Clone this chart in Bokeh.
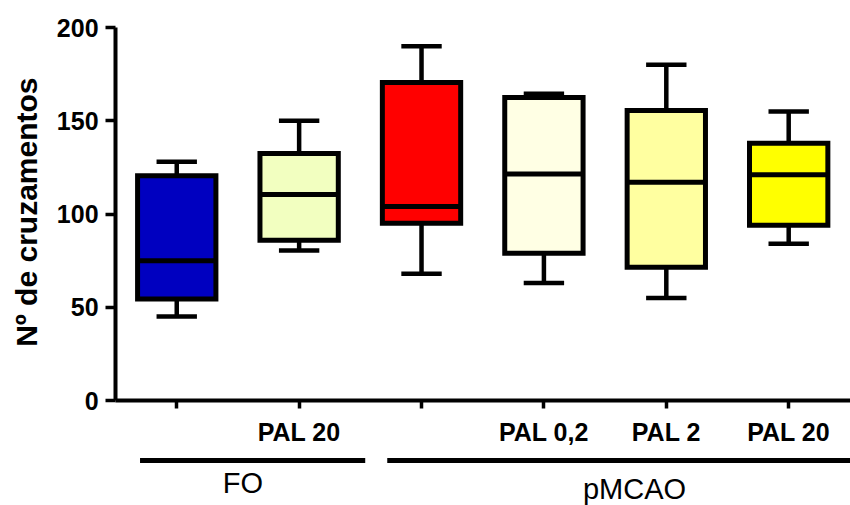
import math
from bokeh.plotting import figure
from bokeh.models import Range1d, FixedTicker
from bokeh.core.properties import value
from bokeh.embed import file_html
from bokeh.resources import INLINE

# ---- data ----
groups = ["FO", "FO PAL 20", "pMCAO", "pMCAO PAL 0,2", "pMCAO PAL 2", "pMCAO PAL 20"]
tick_labels = ["", "PAL 20", "", "PAL 0,2", "PAL 2", "PAL 20"]
whisker_min = [45, 80.5, 68, 63, 55, 84]
q1 = [54.5, 86, 95, 79, 71.5, 94]
median = [75, 110.5, 104, 121.5, 117, 121]
q3 = [120.5, 132.5, 170.5, 162.5, 155.5, 138]
whisker_max = [128, 150, 190, 164.5, 180, 155]
colors = ["#0000C0", "#F2FFC0", "#FF0000", "#FFFFE4", "#FFFFA0", "#FFFF00"]
y_ticks = [0, 50, 100, 150, 200]
y_label = "Nº de cruzamentos"
group_names = ["FO", "pMCAO"]

FONT = "Liberation Sans"
xs = [i + 0.5 for i in range(len(groups))]

# frame covers the whole figure; axes are pinned at x=0 / y=0
X0, X1 = -0.94, 6.005
Y0, Y1 = -56.3, 214.5
p = figure(width=850, height=505, output_backend="svg", toolbar_location=None,
           x_range=Range1d(X0, X1), y_range=Range1d(Y0, Y1),
           min_border_left=0, min_border_right=0, min_border_top=0,
           min_border_bottom=0)
p.outline_line_color = None
p.xgrid.visible = False
p.ygrid.visible = False
p.background_fill_color = "white"

bw = 0.64
cw = 0.33
# whiskers
p.segment(x0=xs, y0=q3, x1=xs, y1=whisker_max, line_color="black", line_width=4.5)
p.segment(x0=xs, y0=q1, x1=xs, y1=whisker_min, line_color="black", line_width=4.5)
p.segment(x0=[x - cw / 2 for x in xs], y0=whisker_max, x1=[x + cw / 2 for x in xs],
          y1=whisker_max, line_color="black", line_width=4.5)
p.segment(x0=[x - cw / 2 for x in xs], y0=whisker_min, x1=[x + cw / 2 for x in xs],
          y1=whisker_min, line_color="black", line_width=4.5)
# boxes
p.vbar(x=xs, width=bw, bottom=q1, top=q3, fill_color=colors, line_color="black",
       line_width=5, line_join="miter")
# medians
p.segment(x0=[x - bw / 2 for x in xs], y0=median, x1=[x + bw / 2 for x in xs],
          y1=median, line_color="black", line_width=5)

# axes
for ax in (p.xaxis[0], p.yaxis[0]):
    ax.axis_line_width = 4
    ax.axis_line_color = "black"
    ax.major_tick_line_width = 3.5
    ax.major_tick_line_color = "black"
    ax.major_tick_in = 0
    ax.minor_tick_line_color = None
    ax.major_label_text_font = FONT
    ax.major_label_text_font_style = "bold"
    ax.major_label_text_color = "black"

p.xaxis.fixed_location = 0
p.xaxis.bounds = (0, X1)
p.xaxis.ticker = FixedTicker(ticks=xs)
p.xaxis.major_label_overrides = {x: t for x, t in zip(xs, tick_labels)}
p.xaxis.major_tick_out = 8
p.xaxis.major_label_standoff = 9
p.xaxis.major_label_text_font_size = "25px"

p.yaxis.fixed_location = 0
p.yaxis.bounds = (0, 200)
p.yaxis.ticker = FixedTicker(ticks=y_ticks)
p.yaxis.major_tick_out = 10
p.yaxis.major_label_standoff = 7
p.yaxis.major_label_text_font_size = "25px"

# y axis title (layout position)
p.text(x=[-0.73], y=[101], text=[y_label], angle=math.pi / 2,
       text_align="center", text_baseline="middle", text_font=value(FONT),
       text_font_style="bold", text_font_size="30px", text_color="black")

# group brackets below the axis (layout positions)
line_y = -32.2
bracket_x0 = [0.2, 2.22]
bracket_x1 = [2.04, X1]
label_x = [1.04, 4.24]
label_y = [-44.5, -47.3]
p.segment(x0=bracket_x0, y0=[line_y] * 2, x1=bracket_x1, y1=[line_y] * 2,
          line_color="black", line_width=5)
p.text(x=label_x, y=label_y, text=group_names, text_align="center",
       text_baseline="middle", text_font=value(FONT), text_font_size="29px",
       text_color="black")

open("out.html", "w").write(file_html(p, INLINE))
